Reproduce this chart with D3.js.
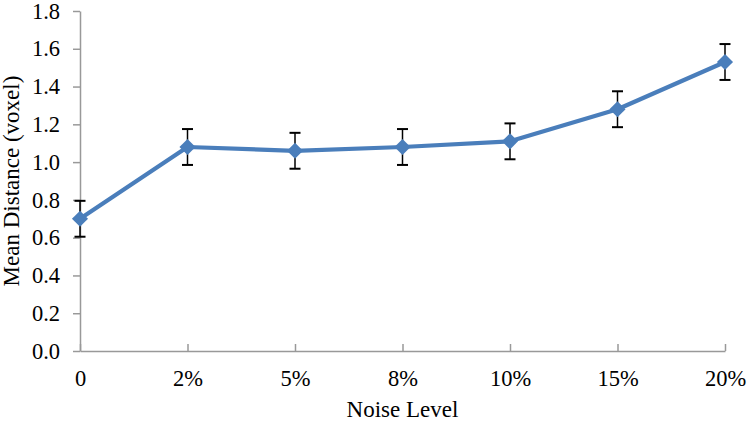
<!DOCTYPE html>
<html>
<head>
<meta charset="utf-8">
<script src="https://cdn.jsdelivr.net/npm/d3@7"></script>
<style>
  body { margin: 0; background: #fff; }
  svg text { font-family: "Liberation Serif", "Times New Roman", serif; fill: #000; }
</style>
</head>
<body>
<svg id="chart" width="750" height="423"></svg>
<script>
// data
var noiseLevels = ["0", "2%", "5%", "8%", "10%", "15%", "20%"];
var meanDistance = [0.70, 1.08, 1.06, 1.08, 1.11, 1.28, 1.53];
var errors = [0.095, 0.095, 0.095, 0.095, 0.095, 0.095, 0.095];
var yTicks = [0, 0.2, 0.4, 0.6, 0.8, 1.0, 1.2, 1.4, 1.6, 1.8];

var svg = d3.select("#chart");
var margin = {left: 80, right: 25, top: 11, bottom: 72};
var width = 750 - margin.left - margin.right;
var height = 423 - margin.top - margin.bottom;
var serif = "Liberation Serif, Times New Roman, serif";

var g = svg.append("g")
    .attr("transform", "translate(" + margin.left + "," + margin.top + ")");

var x = d3.scalePoint()
    .domain(noiseLevels)
    .range([0, width]);
var y = d3.scaleLinear()
    .domain([0, 1.8])
    .range([height, 0]);

// y axis
var yAxis = g.append("g")
    .call(d3.axisLeft(y).tickValues(yTicks).tickSize(7).tickSizeOuter(0).tickPadding(13)
      .tickFormat(d3.format(".1f")))
    .attr("font-family", serif)
    .attr("font-size", 22.5);
yAxis.selectAll("line, path").attr("stroke", "#999").attr("stroke-width", 1.5);

// x axis, ticks point inward
var xAxis = g.append("g")
    .attr("transform", "translate(0," + height + ")")
    .call(d3.axisBottom(x).tickSize(-7).tickSizeOuter(0).tickPadding(19))
    .attr("font-family", serif)
    .attr("font-size", 22.5);
xAxis.select(".domain").attr("stroke", "#999").attr("stroke-width", 1.5);
xAxis.selectAll(".tick line").attr("stroke", "#999").attr("stroke-width", 1.5);

// error bars
var eb = g.append("g").selectAll("g")
    .data(noiseLevels)
    .enter().append("g");
eb.append("line")
    .attr("x1", function(d) { return x(d); })
    .attr("x2", function(d) { return x(d); })
    .attr("y1", function(d, i) { return y(meanDistance[i] + errors[i]); })
    .attr("y2", function(d, i) { return y(meanDistance[i] - errors[i]); })
    .attr("stroke", "#000").attr("stroke-width", 1.5);
eb.selectAll(".cap")
    .data(function(d, i) { return [[d, meanDistance[i] + errors[i]], [d, meanDistance[i] - errors[i]]]; })
    .enter().append("line")
    .attr("class", "cap")
    .attr("x1", function(d) { return x(d[0]) - 5.5; })
    .attr("x2", function(d) { return x(d[0]) + 5.5; })
    .attr("y1", function(d) { return y(d[1]); })
    .attr("y2", function(d) { return y(d[1]); })
    .attr("stroke", "#000").attr("stroke-width", 2);

// line
var line = d3.line()
    .x(function(d, i) { return x(noiseLevels[i]); })
    .y(function(d) { return y(d); });
g.append("path")
    .datum(meanDistance)
    .attr("d", line)
    .attr("fill", "none")
    .attr("stroke", "#4A7EBB")
    .attr("stroke-width", 4.2)
    .attr("stroke-linejoin", "round");

// diamond markers
g.selectAll(".marker")
    .data(meanDistance)
    .enter().append("path")
    .attr("class", "marker")
    .attr("d", d3.symbol().type(d3.symbolDiamond2).size(165))
    .attr("transform", function(d, i) { return "translate(" + x(noiseLevels[i]) + "," + y(d) + ")"; })
    .attr("fill", "#4A7EBB");

// axis titles
svg.append("text")
    .attr("x", margin.left + width / 2)
    .attr("y", 417)
    .attr("text-anchor", "middle")
    .attr("font-size", 23)
    .text("Noise Level");
svg.append("text")
    .attr("transform", "translate(19," + (margin.top + height / 2) + ") rotate(-90)")
    .attr("text-anchor", "middle")
    .attr("font-size", 23)
    .text("Mean Distance (voxel)");
</script>
</body>
</html>
